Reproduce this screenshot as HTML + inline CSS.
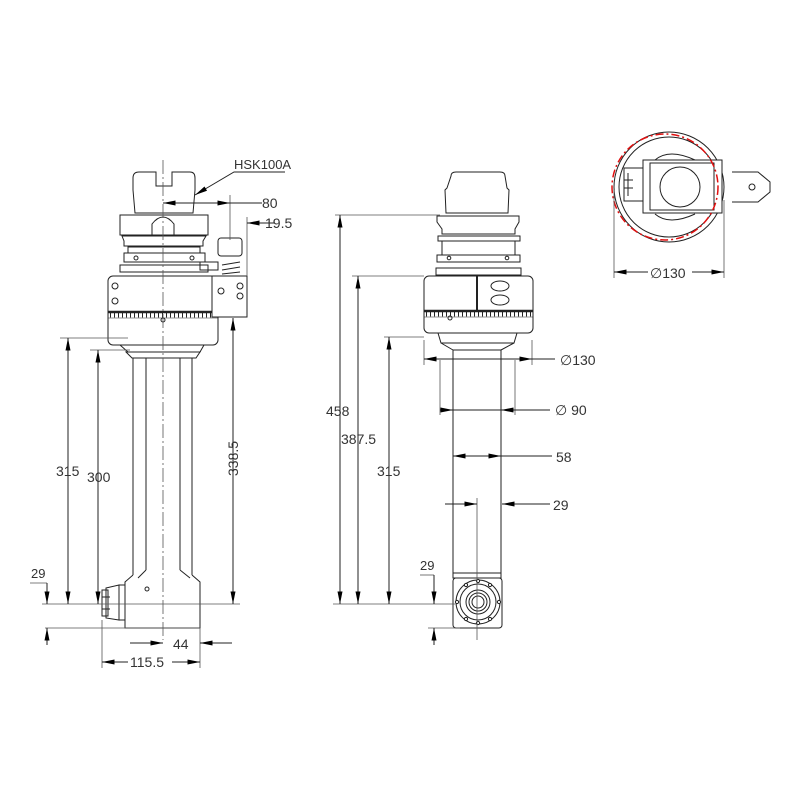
<!DOCTYPE html>
<html><head><style>body{margin:0;background:#fff}svg{display:block}text{font-family:"Liberation Sans",sans-serif;fill:#333}</style></head>
<body>
<svg width="800" height="800" viewBox="0 0 800 800" xmlns="http://www.w3.org/2000/svg">
<defs>
<marker id="a" viewBox="0 0 10 4" refX="10" refY="2" markerWidth="16" markerHeight="5" markerUnits="userSpaceOnUse" orient="auto-start-reverse"><path d="M0,0L10,2L0,4z" fill="#000"/></marker>
</defs>
<g stroke="#222" stroke-width="1" fill="none">
<!-- LEFT VIEW -->
<path d="M133,178 Q133,172 139,172 L156,172 L156,186 L172,186 L172,172 L190,172 Q195,172 195,178 L195,190 L193,213 L135,213 L133,190Z" fill="#fff"/>
<rect x="120" y="215" width="88" height="20" fill="#fff"/>
<path d="M152,236 L152,224 Q163,210 174,224 L174,236"/>
<path d="M122,236 L206,236 L203,241 L203,246 L124,246 L124,241Z"/>
<rect x="128" y="247" width="72" height="6"/>
<rect x="124" y="253" width="81" height="9" fill="#fff"/>
<circle cx="136" cy="258" r="2"/><circle cx="192" cy="258" r="2"/>
<rect x="120" y="265" width="88" height="7"/>
<rect x="108" y="276" width="110" height="69" rx="5" fill="#fff"/>
<line x1="108" y1="312" x2="218" y2="312" stroke-width="2.5"/>
<line x1="110" y1="315" x2="216" y2="315" stroke-width="5" stroke-dasharray="1 3"/>
<line x1="108" y1="318" x2="218" y2="318" stroke-width="0.6"/>
<circle cx="163" cy="320" r="2"/>
<circle cx="115" cy="286" r="3"/><circle cx="115" cy="301" r="3"/>
<rect x="212" y="276" width="35" height="41" fill="#fff"/>
<circle cx="240" cy="286" r="3"/><circle cx="240" cy="296" r="3"/>
<circle cx="221" cy="291" r="3"/>
<rect x="218" y="238" width="24" height="18" rx="3" fill="#fff"/>
<path d="M222,265 L240,262 M222,270 L240,267 M222,274 L240,272"/>
<path d="M200,262 L218,262 L218,270 L200,270Z"/>
<path d="M120,345 L204,345 L200,352 L128,352Z"/>
<path d="M126,352 L200,352 L196,358 L132,358Z"/>
<path d="M133,358 L133,575 M146,358 L146,570 M180,358 L180,570 M192,358 L192,575"/>
<path d="M133,575 L125,582 L125,628 L200,628 L200,582 L192,575 M146,570 L138,578 M180,570 L190,578"/>
<circle cx="147" cy="589" r="2"/>
<rect x="119" y="585" width="6" height="35"/>
<path d="M106,588 L119,585 L119,620 L106,618 Z" fill="#fff"/>
<path d="M102,590 L108,590 L108,616 L102,616 Z M102,597 L110,597 M102,609 L110,609"/>
<!-- LEFT dims -->
<g stroke="#555" stroke-width="0.8">
<line x1="163" y1="160" x2="163" y2="640" stroke-dasharray="14 3 2 3"/>
<line x1="60" y1="338" x2="128" y2="338"/>
<line x1="90" y1="350" x2="130" y2="350"/>
<line x1="42" y1="604" x2="240" y2="604"/>
<line x1="45" y1="628" x2="200" y2="628"/>
<line x1="30" y1="583" x2="47" y2="583"/>
<line x1="102" y1="620" x2="102" y2="668"/>
<line x1="200" y1="628" x2="200" y2="668"/>
<line x1="230" y1="195" x2="230" y2="240"/>
<line x1="247" y1="217" x2="247" y2="276"/>
</g>
<line x1="68" y1="338" x2="68" y2="604" marker-start="url(#a)" marker-end="url(#a)"/>
<line x1="98" y1="350" x2="98" y2="604" marker-start="url(#a)" marker-end="url(#a)"/>
<line x1="233" y1="318" x2="233" y2="604" marker-start="url(#a)" marker-end="url(#a)"/>
<line x1="47" y1="583" x2="47" y2="604" marker-end="url(#a)"/>
<line x1="47" y1="645" x2="47" y2="628" marker-end="url(#a)"/>
<line x1="130" y1="643" x2="163" y2="643" marker-end="url(#a)"/>
<line x1="232" y1="643" x2="200" y2="643" marker-end="url(#a)"/>
<line x1="102" y1="662" x2="128" y2="662" marker-start="url(#a)"/>
<line x1="172" y1="662" x2="200" y2="662" marker-end="url(#a)"/>
<path d="M285,172 L234,172 L195,195" marker-end="url(#a)"/>
<line x1="163" y1="203" x2="230" y2="203" marker-start="url(#a)" marker-end="url(#a)"/>
<line x1="230" y1="203" x2="262" y2="203"/>
<line x1="275" y1="223" x2="247" y2="223" marker-end="url(#a)"/>

<!-- MIDDLE VIEW -->
<path d="M451,176 Q451,172 456,172 L500,172 Q505,172 505,176 L507,188 L509,190 L508,213 L446,213 L445,190 L447,188Z" fill="#fff"/>
<path d="M437,216 L519,216 L519,222 L515,229 L515,234 L442,234 L442,229 L437,222Z"/>
<rect x="438" y="236" width="82" height="5"/>
<rect x="442" y="241" width="73" height="14"/>
<rect x="437" y="255" width="83" height="7"/><circle cx="449" cy="258" r="1.8"/><circle cx="507" cy="258" r="1.8"/>
<rect x="436" y="268" width="85" height="7"/>
<rect x="424" y="276" width="109" height="57" rx="5" fill="#fff"/>
<line x1="477" y1="276" x2="477" y2="310" stroke-width="2"/>
<line x1="424" y1="311" x2="533" y2="311" stroke-width="2.5"/>
<line x1="426" y1="314" x2="531" y2="314" stroke-width="5" stroke-dasharray="1 3"/>
<line x1="424" y1="317" x2="533" y2="317" stroke-width="0.6"/>
<circle cx="450" cy="318" r="2"/>
<ellipse cx="500" cy="286" rx="9" ry="5"/><ellipse cx="500" cy="300" rx="9" ry="5"/>
<path d="M438,333 L517,333 L514,343 L441,343Z M441,343 L453,350 M514,343 L501,350"/>
<rect x="453" y="350" width="48" height="228"/>
<path d="M453,573 L501,573"/>
<rect x="453" y="578" width="49" height="50" rx="3" fill="#fff"/>
<circle cx="478" cy="602" r="22"/><circle cx="478" cy="602" r="18"/><circle cx="478" cy="602" r="12"/><circle cx="478" cy="602" r="9"/><circle cx="478" cy="602" r="6"/>
<g fill="#fff"><circle cx="478" cy="581" r="1.6"/><circle cx="478" cy="623" r="1.6"/><circle cx="457" cy="602" r="1.6"/><circle cx="499" cy="602" r="1.6"/><circle cx="466" cy="585" r="1.6"/><circle cx="490" cy="585" r="1.6"/><circle cx="466" cy="619" r="1.6"/><circle cx="490" cy="619" r="1.6"/></g>
<g stroke="#555" stroke-width="0.8">
<line x1="477" y1="498" x2="477" y2="640"/>
<line x1="335" y1="215" x2="440" y2="215"/>
<line x1="352" y1="276" x2="424" y2="276"/>
<line x1="384" y1="337" x2="424" y2="337"/>
<line x1="333" y1="604" x2="455" y2="604"/>
<line x1="428" y1="628" x2="460" y2="628"/>
<line x1="420" y1="575" x2="434" y2="575"/>
<line x1="424" y1="340" x2="424" y2="365"/>
<line x1="532" y1="340" x2="532" y2="365"/>
<line x1="440" y1="360" x2="440" y2="415"/>
<line x1="515" y1="360" x2="515" y2="415"/>
</g>
<line x1="340" y1="215" x2="340" y2="604" marker-start="url(#a)" marker-end="url(#a)"/>
<line x1="358" y1="276" x2="358" y2="604" marker-start="url(#a)" marker-end="url(#a)"/>
<line x1="389" y1="337" x2="389" y2="604" marker-start="url(#a)" marker-end="url(#a)"/>
<line x1="434" y1="575" x2="434" y2="604" marker-end="url(#a)"/>
<line x1="434" y1="645" x2="434" y2="628" marker-end="url(#a)"/>
<line x1="424" y1="359" x2="532" y2="359" marker-start="url(#a)" marker-end="url(#a)"/><line x1="532" y1="359" x2="555" y2="359"/>
<line x1="440" y1="410" x2="453" y2="410" marker-end="url(#a)"/><line x1="453" y1="410" x2="501" y2="410"/><line x1="550" y1="410" x2="501" y2="410" marker-end="url(#a)"/>
<line x1="477" y1="456" x2="453" y2="456" marker-end="url(#a)"/><line x1="477" y1="456" x2="501" y2="456" marker-end="url(#a)"/><line x1="501" y1="456" x2="552" y2="456"/>
<line x1="445" y1="504" x2="477" y2="504" marker-end="url(#a)"/>
<line x1="550" y1="504" x2="502" y2="504" marker-end="url(#a)"/>

<!-- RIGHT VIEW -->
<circle cx="669" cy="187" r="55"/>
<circle cx="669" cy="187" r="50"/>
<path d="M732,172 L758,172 L770,182 L770,192 L758,202 L732,202"/>
<circle cx="752" cy="187" r="3"/>
<path d="M655,160 Q669,148 695,160 M655,214 Q669,226 695,214" />
<rect x="643" y="160" width="79" height="53" fill="#fff"/>
<rect x="650" y="163" width="64" height="47"/>
<circle cx="680" cy="187" r="20"/>
<rect x="624" y="168" width="19" height="33" fill="#fff"/>
<path d="M628,173 L628,196 M624,180 L633,180 M624,188 L633,188"/>
<circle cx="665" cy="187" r="53" stroke="#e01010" stroke-width="1.5" stroke-dasharray="8 3 2 3"/>
<line x1="614" y1="190" x2="614" y2="278" stroke="#555" stroke-width="0.8"/>
<line x1="724" y1="200" x2="724" y2="278" stroke="#555" stroke-width="0.8"/>
<line x1="614" y1="272" x2="648" y2="272" marker-start="url(#a)"/>
<line x1="692" y1="272" x2="724" y2="272" marker-end="url(#a)"/>
</g>
<g font-size="14">
<text x="234" y="169" font-size="13">HSK100A</text>
<text x="262" y="208">80</text>
<text x="265" y="228">19.5</text>
<text x="56" y="476">315</text>
<text x="87" y="482">300</text>
<text x="31" y="578" font-size="13">29</text>
<text x="173" y="649">44</text>
<text x="130" y="667">115.5</text>
<text transform="translate(238,476) rotate(-90)">338.5</text>
<text x="326" y="416">458</text>
<text x="341" y="444">387.5</text>
<text x="377" y="476">315</text>
<text x="420" y="570" font-size="13">29</text>
<text x="560" y="365" font-family="Liberation Serif">∅130</text>
<text x="555" y="415">∅ 90</text>
<text x="556" y="462">58</text>
<text x="553" y="510">29</text>
<text x="650" y="278" font-family="Liberation Serif">∅130</text>
</g>
</svg>
</body></html>
